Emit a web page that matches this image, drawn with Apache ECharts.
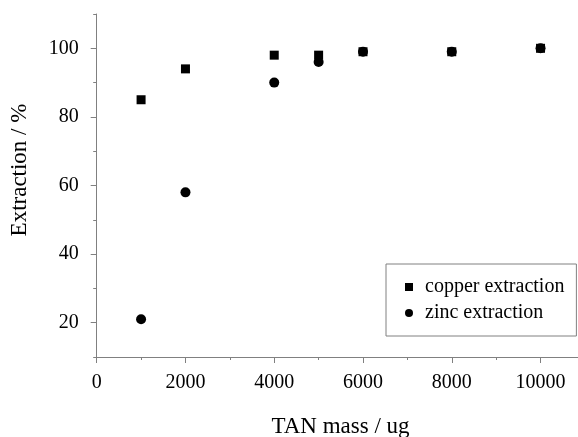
<!DOCTYPE html>
<html>
<head>
<meta charset="utf-8">
<script src="https://cdn.jsdelivr.net/npm/echarts@6/dist/echarts.min.js"></script>
<style>
html,body{margin:0;padding:0;background:#fff;}
#chart{width:578px;height:437px;}
</style>
</head>
<body>
<div id="chart"></div>
<script>
var tanMass = [1000, 2000, 4000, 5000, 6000, 8000, 10000];
var copperExtraction = [85, 94, 98, 98, 99, 99, 100];
var zincExtraction = [21, 58, 90, 96, 99, 99, 100];
var seriesNames = ['copper extraction', 'zinc extraction'];
var xTitle = 'TAN mass / ug';
var yTitle = 'Extraction / %';

var FONT = 'Liberation Serif';
var AXIS = '#808080';

function pairs(xs, ys) { return xs.map(function (x, i) { return [x, ys[i]]; }); }

var chart = echarts.init(document.getElementById('chart'));
chart.setOption({
  backgroundColor: '#fff',
  animation: false,
  textStyle: { fontFamily: FONT },
  grid: [
    { left: 96.7, width: 532.6, top: 14, bottom: 80, outerBoundsMode: 'none', containLabel: false },
    { left: 96.7, width: 400, top: 48.3, bottom: 114.3, outerBoundsMode: 'none', containLabel: false }
  ],
  xAxis: [
    {
      gridIndex: 0, type: 'value', min: 0, max: 12000, interval: 2000,
      axisLine: { show: true, lineStyle: { color: AXIS, width: 1 } },
      axisTick: { show: true, inside: false, length: 6, lineStyle: { color: AXIS } },
      minorTick: { show: true, splitNumber: 2, length: 3, lineStyle: { color: AXIS } },
      splitLine: { show: false },
      axisLabel: {
        color: '#000', fontSize: 20, fontFamily: FONT, margin: 16, showMaxLabel: false,
        formatter: function (v) { return String(v); }
      }
    },
    { gridIndex: 1, type: 'value', min: 0, max: 10, show: false }
  ],
  yAxis: [
    {
      gridIndex: 0, type: 'value', min: 10, max: 110, interval: 10,
      axisLine: { show: true, lineStyle: { color: AXIS, width: 1 } },
      axisTick: { show: true, inside: false, length: 3.5, lineStyle: { color: AXIS } },
      splitLine: { show: false },
      axisLabel: { show: false }
    },
    {
      gridIndex: 1, type: 'value', min: 20, max: 100, interval: 20,
      axisLine: { show: false },
      axisTick: { show: true, inside: false, length: 6, lineStyle: { color: AXIS } },
      splitLine: { show: false },
      axisLabel: { color: '#000', fontSize: 20, fontFamily: FONT, margin: 18 }
    }
  ],
  legend: {
    orient: 'vertical',
    left: 386, top: 264,
    padding: [13, 12, 13, 19],
    itemGap: 6,
    itemWidth: 8, itemHeight: 8,
    borderColor: AXIS, borderWidth: 1,
    backgroundColor: '#fff',
    textStyle: { color: '#000', fontSize: 20, fontFamily: FONT, padding: [0, 0, 0, 7] },
    data: [
      { name: seriesNames[0], icon: 'rect' },
      { name: seriesNames[1], icon: 'circle' }
    ]
  },
  series: [
    {
      name: seriesNames[1], type: 'scatter', xAxisIndex: 0, yAxisIndex: 0,
      symbol: 'circle', symbolSize: 10,
      itemStyle: { color: '#000', opacity: 1 },
      data: pairs(tanMass, zincExtraction)
    },
    {
      name: seriesNames[0], type: 'scatter', xAxisIndex: 0, yAxisIndex: 0,
      symbol: 'rect', symbolSize: 9,
      itemStyle: { color: '#000', opacity: 1 },
      data: pairs(tanMass, copperExtraction)
    }
  ],
  graphic: [
    {
      type: 'text', x: 340.5, y: 427.3,
      style: { text: xTitle, fill: '#000', font: '23px "Liberation Serif"', align: 'center', verticalAlign: 'middle' }
    },
    {
      type: 'text', x: 20.3, y: 170, rotation: Math.PI / 2,
      style: { text: yTitle, fill: '#000', font: '23px "Liberation Serif"', align: 'center', verticalAlign: 'middle' }
    }
  ]
});
</script>
</body>
</html>
